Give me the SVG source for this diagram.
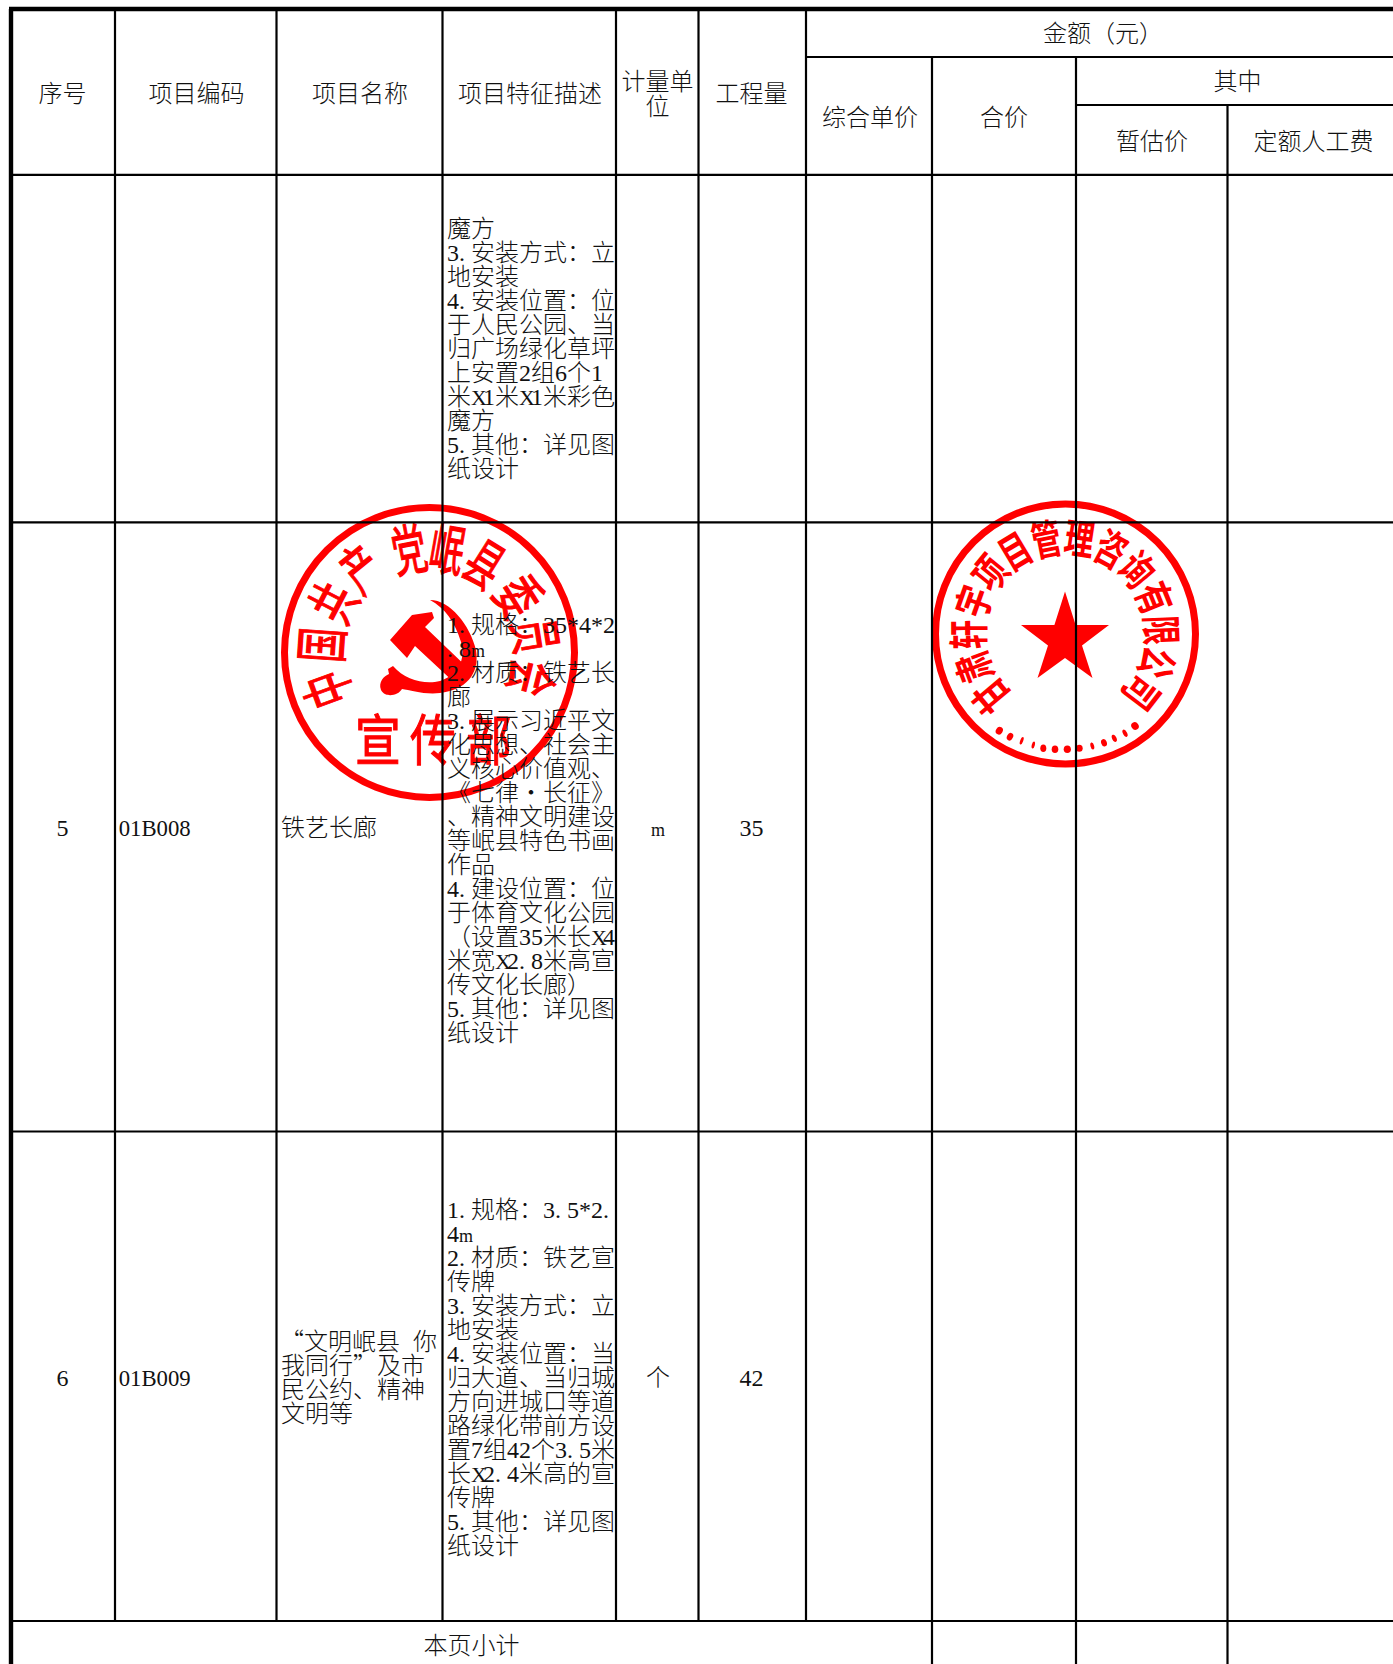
<svg xmlns="http://www.w3.org/2000/svg" width="1393" height="1664" viewBox="0 0 1393 1664">
<style>
.t{font-family:"Liberation Serif","Noto Sans CJK SC",sans-serif;font-size:24px;font-weight:300;fill:#111}
.mid{text-anchor:middle}
.p{letter-spacing:6px}
.m{font-size:18px;letter-spacing:-2px}
.x{font-size:22px;letter-spacing:-3.9px}
.c{font-family:"Noto Sans CJK SC",sans-serif}
.s{font-family:"Noto Sans CJK SC",sans-serif;font-weight:400;fill:#f00;stroke:#f00;stroke-width:1;text-anchor:middle}
.s2{font-family:"Noto Sans CJK SC",sans-serif;font-weight:700;fill:#f00;text-anchor:middle}
.red{fill:#f00}
.ring{fill:none;stroke:#f00}
.h{stroke:#000;stroke-width:2.2;fill:none}
.v{stroke:#000;stroke-width:2.2;fill:none}
.b{stroke:#000;stroke-width:4.4;fill:none}
</style>
<rect width="1393" height="1664" fill="#fff"/>

<g id="stamp-party">
<circle class="ring" cx="429.5" cy="652.5" r="145" stroke-width="7"/>
<g font-size="44">
<text class="s" transform="translate(429 652.5) rotate(-110) translate(0 -107) scale(.78 1.25)" y="16">中</text>
<text class="s" transform="translate(429 652.5) rotate(-86) translate(0 -107) scale(.78 1.25)" y="16">国</text>
<text class="s" transform="translate(429 652.5) rotate(-62.5) translate(0 -107) scale(.78 1.25)" y="16">共</text>
<text class="s" transform="translate(429 652.5) rotate(-39) translate(0 -107) scale(.78 1.25)" y="16">产</text>
<text class="s" transform="translate(429 652.5) rotate(-11) translate(0 -104) scale(.78 1.25)" y="16">党</text>
<text class="s" transform="translate(429 652.5) rotate(10) translate(0 -104) scale(.78 1.25)" y="16">岷</text>
<text class="s" transform="translate(429 652.5) rotate(32) translate(0 -104) scale(.78 1.25)" y="16">县</text>
<text class="s" transform="translate(429 652.5) rotate(58) translate(0 -105) scale(.78 1.25)" y="16">委</text>
<text class="s" transform="translate(429 652.5) rotate(81) translate(0 -107) scale(.78 1.25)" y="16">员</text>
<text class="s" transform="translate(429 652.5) rotate(104) translate(0 -105) scale(.78 1.25)" y="16">会</text>
</g>
<g font-size="52">
<text class="s" x="0" y="0" transform="translate(378 760) scale(.88 1.05)">宣</text>
<text class="s" x="0" y="0" transform="translate(433 760) scale(.88 1.05)">传</text>
<text class="s" x="0" y="0" transform="translate(489 760) scale(.88 1.05)">部</text>
</g>
<path class="red" d="M390 640L412 615L432 612L434 618L425 627L472 672L458 686L415 646L407 658Z"/>
<path class="red" d="M430 600C450 600 470 625 476 650C480 675 465 690 440 693C425 695 410 690 402 689C398 696 385 698 381 690C378 682 384 676 389 674L388 669L393 666C405 680 425 685 440 681C458 675 466 660 461 642C455 622 445 608 430 600Z"/>
</g>

<g id="stamp-company">
<circle class="ring" cx="1065.5" cy="634" r="130" stroke-width="7"/>
<g font-size="33">
<text class="s2" transform="translate(1065 634) rotate(-130) translate(0 -96) scale(.9 1.25)" y="12">甘</text>
<text class="s2" transform="translate(1065 634) rotate(-110.2) translate(0 -96) scale(.9 1.25)" y="12">肃</text>
<text class="s2" transform="translate(1065 634) rotate(-90.4) translate(0 -96) scale(.9 1.25)" y="12">轩</text>
<text class="s2" transform="translate(1065 634) rotate(-70.6) translate(0 -96) scale(.9 1.25)" y="12">宇</text>
<text class="s2" transform="translate(1065 634) rotate(-50.8) translate(0 -96) scale(.9 1.25)" y="12">项</text>
<text class="s2" transform="translate(1065 634) rotate(-31) translate(0 -96) scale(.9 1.25)" y="12">目</text>
<text class="s2" transform="translate(1065 634) rotate(-11.2) translate(0 -96) scale(.9 1.25)" y="12">管</text>
<text class="s2" transform="translate(1065 634) rotate(8.6) translate(0 -96) scale(.9 1.25)" y="12">理</text>
<text class="s2" transform="translate(1065 634) rotate(28.4) translate(0 -96) scale(.9 1.25)" y="12">咨</text>
<text class="s2" transform="translate(1065 634) rotate(48.2) translate(0 -96) scale(.9 1.25)" y="12">询</text>
<text class="s2" transform="translate(1065 634) rotate(68) translate(0 -96) scale(.9 1.25)" y="12">有</text>
<text class="s2" transform="translate(1065 634) rotate(87.8) translate(0 -96) scale(.9 1.25)" y="12">限</text>
<text class="s2" transform="translate(1065 634) rotate(107.6) translate(0 -96) scale(.9 1.25)" y="12">公</text>
<text class="s2" transform="translate(1065 634) rotate(127.4) translate(0 -96) scale(.9 1.25)" y="12">司</text>
</g>
<polygon class="red" points="1065,591.5 1075.6,625 1109,625 1082,645.5 1092.5,678 1065,658 1037.5,678 1048,645.5 1021,625 1054.4,625"/>
<g class="red">
<ellipse cx="999.3" cy="730.7" rx="3.4" ry="4" transform="rotate(32 999.3 730.7)"/>
<ellipse cx="1010" cy="736.7" rx="3" ry="4" transform="rotate(28 1010 736.7)"/>
<ellipse cx="1021.7" cy="740.7" rx="1.5" ry="4" transform="rotate(20 1021.7 740.7)"/>
<ellipse cx="1033.3" cy="745" rx="1.5" ry="3.5" transform="rotate(15 1033.3 745)"/>
<ellipse cx="1043.3" cy="748.3" rx="3" ry="3.8"/>
<ellipse cx="1055" cy="749.3" rx="3.3" ry="3.8"/>
<ellipse cx="1067.3" cy="749.3" rx="3.6" ry="3.8"/>
<ellipse cx="1079.3" cy="748.3" rx="3.4" ry="3.5"/>
<ellipse cx="1092.3" cy="746" rx="1.8" ry="3.6" transform="rotate(-15 1092.3 746)"/>
<ellipse cx="1104" cy="742.7" rx="2.8" ry="3.8" transform="rotate(-20 1104 742.7)"/>
<ellipse cx="1114.3" cy="738.3" rx="2.2" ry="3.8" transform="rotate(-24 1114.3 738.3)"/>
<ellipse cx="1125" cy="733.3" rx="2" ry="4" transform="rotate(-28 1125 733.3)"/>
<ellipse cx="1135" cy="726" rx="3.6" ry="4" transform="rotate(-35 1135 726)"/>
</g>
</g>

<g id="grid">
<path class="b" d="M9 9H1393M11 9V1664"/>
<path class="h" d="M806 57H1393M1076 105H1393M11 174.8H1393M11 522.3H1393M11 1131.5H1393M11 1621H1393"/>
<path class="v" d="M115 9V1622M276.5 9V1622M442.5 9V1622M616 9V1622M698.5 9V1622M806 9V1622M932 57V1664M1076 57V1664M1227.5 105V1664"/>
</g>

<g id="header" transform="translate(0 -1)">
<text class="t mid" x="62.5" y="102.5">序号</text>
<text class="t mid" x="196.5" y="102.5">项目编码</text>
<text class="t mid" x="360" y="102.5">项目名称</text>
<text class="t mid" x="530" y="102.5">项目特征描述</text>
<text class="t mid" x="657.6" y="90.5">计量单</text>
<text class="t mid" x="657.6" y="115.5">位</text>
<text class="t mid" x="751.5" y="102.5">工程量</text>
<text class="t mid" x="1103" y="43">金额（元）</text>
<text class="t mid" x="870" y="126.5">综合单价</text>
<text class="t mid" x="1004" y="126.5">合价</text>
<text class="t mid" x="1237.5" y="90.5">其中</text>
<text class="t mid" x="1152" y="150.5">暂估价</text>
<text class="t mid" x="1313.5" y="150.5">定额人工费</text>
</g>

<g id="row-4" transform="translate(0 -1)">
<text class="t" x="447" y="238">魔方</text>
<text class="t" x="447" y="262">3<tspan class="p">.</tspan>安装方式：立</text>
<text class="t" x="447" y="286">地安装</text>
<text class="t" x="447" y="310">4<tspan class="p">.</tspan>安装位置：位</text>
<text class="t" x="447" y="334">于人民公园、当</text>
<text class="t" x="447" y="358">归广场绿化草坪</text>
<text class="t" x="447" y="382">上安置2组6个1</text>
<text class="t" x="447" y="406">米<tspan class="x">X</tspan>1米<tspan class="x">X</tspan>1米彩色</text>
<text class="t" x="447" y="430">魔方</text>
<text class="t" x="447" y="454">5<tspan class="p">.</tspan>其他：详见图</text>
<text class="t" x="447" y="478">纸设计</text>
</g>

<g id="row-5" transform="translate(0 -1)">
<text class="t mid" x="62.5" y="837">5</text>
<text class="t" x="118.7" y="837" textLength="72" lengthAdjust="spacingAndGlyphs">01B008</text>
<text class="t" x="281" y="837">铁艺长廊</text>
<text class="t mid" x="658" y="837" style="font-size:18px">m</text>
<text class="t mid" x="751.5" y="837">35</text>
<text class="t" x="447" y="634">1<tspan class="p">.</tspan>规格：35*4*2</text>
<text class="t" x="447" y="658"><tspan class="p">.</tspan>8<tspan class="m">m</tspan></text>
<text class="t" x="447" y="682">2<tspan class="p">.</tspan>材质：铁艺长</text>
<text class="t" x="447" y="706">廊</text>
<text class="t" x="447" y="730">3<tspan class="p">.</tspan>展示习近平文</text>
<text class="t" x="447" y="754">化思想、社会主</text>
<text class="t" x="447" y="778">义核心价值观、</text>
<text class="t c" x="447" y="802">《七律<tspan x="531" class="mid">•</tspan><tspan x="543">长征》</tspan></text>
<text class="t" x="447" y="826">、精神文明建设</text>
<text class="t" x="447" y="850">等岷县特色书画</text>
<text class="t" x="447" y="874">作品</text>
<text class="t" x="447" y="898">4<tspan class="p">.</tspan>建设位置：位</text>
<text class="t" x="447" y="922">于体育文化公园</text>
<text class="t" x="447" y="946">（设置35米长<tspan class="x">X</tspan>4</text>
<text class="t" x="447" y="970">米宽<tspan class="x">X</tspan>2<tspan class="p">.</tspan>8米高宣</text>
<text class="t" x="447" y="994">传文化长廊）</text>
<text class="t" x="447" y="1018">5<tspan class="p">.</tspan>其他：详见图</text>
<text class="t" x="447" y="1042">纸设计</text>
</g>

<g id="row-6" transform="translate(0 -1)">
<text class="t mid" x="62.5" y="1387">6</text>
<text class="t" x="118.7" y="1387" textLength="72" lengthAdjust="spacingAndGlyphs">01B009</text>
<text class="t c" x="280" y="1351">“文明岷县<tspan x="413">你</tspan></text>
<text class="t c" x="281" y="1375">我同行”及市</text>
<text class="t c" x="281" y="1399">民公约、精神</text>
<text class="t c" x="281" y="1423">文明等</text>
<text class="t mid" x="658" y="1387">个</text>
<text class="t mid" x="751.5" y="1387">42</text>
<text class="t" x="447" y="1218.5">1<tspan class="p">.</tspan>规格：3<tspan class="p">.</tspan>5*2<tspan class="p">.</tspan></text>
<text class="t" x="447" y="1242.5">4<tspan class="m">m</tspan></text>
<text class="t" x="447" y="1266.5">2<tspan class="p">.</tspan>材质：铁艺宣</text>
<text class="t" x="447" y="1290.5">传牌</text>
<text class="t" x="447" y="1314.5">3<tspan class="p">.</tspan>安装方式：立</text>
<text class="t" x="447" y="1338.5">地安装</text>
<text class="t" x="447" y="1362.5">4<tspan class="p">.</tspan>安装位置：当</text>
<text class="t" x="447" y="1386.5">归大道、当归城</text>
<text class="t" x="447" y="1410.5">方向进城口等道</text>
<text class="t" x="447" y="1434.5">路绿化带前方设</text>
<text class="t" x="447" y="1458.5">置7组42个3<tspan class="p">.</tspan>5米</text>
<text class="t" x="447" y="1482.5">长<tspan class="x">X</tspan>2<tspan class="p">.</tspan>4米高的宣</text>
<text class="t" x="447" y="1506.5">传牌</text>
<text class="t" x="447" y="1530.5">5<tspan class="p">.</tspan>其他：详见图</text>
<text class="t" x="447" y="1554.5">纸设计</text>
</g>

<g id="subtotal" transform="translate(0 -1)">
<text class="t mid" x="471.5" y="1654.5">本页小计</text>
</g>
</svg>
